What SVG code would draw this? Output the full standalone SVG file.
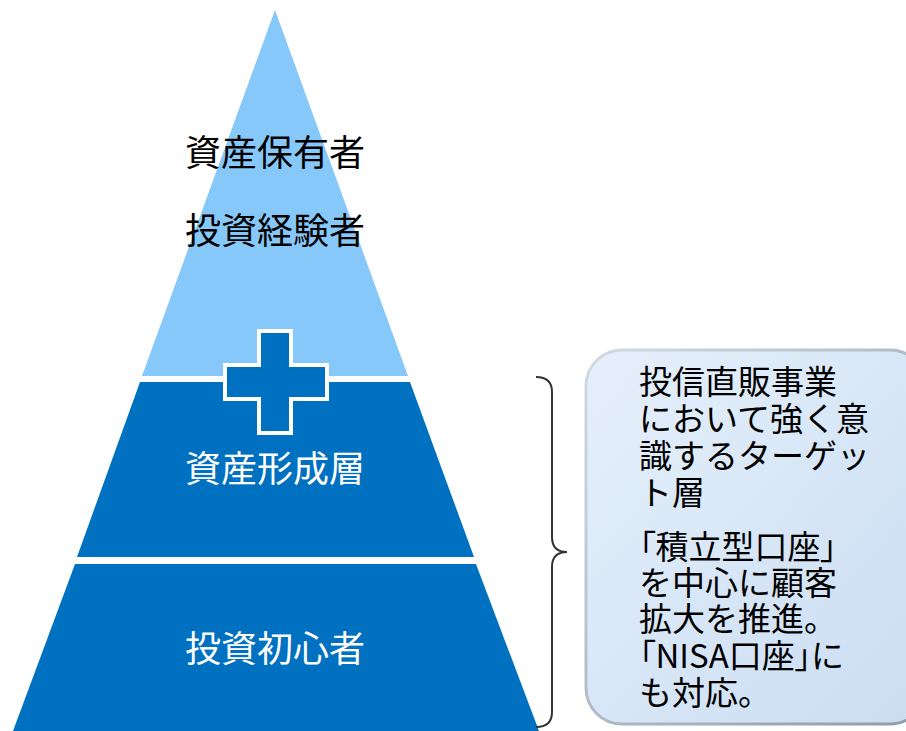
<svg xmlns="http://www.w3.org/2000/svg" width="906" height="731" viewBox="0 0 906 731">
<style>
.t{font-family:"Noto Sans CJK JP","Noto Sans CJK SC",sans-serif;}
.lbl{font-size:36px;text-anchor:middle;}
.box{font-size:33px;fill:#000;}
.palt{font-feature-settings:"palt" 1;}
</style>
<defs>
<linearGradient id="bg" x1="0" y1="0" x2="1" y2="1">
<stop offset="0" stop-color="#e6f0fb"/>
<stop offset="1" stop-color="#c9ddf2"/>
</linearGradient>
<linearGradient id="bd" x1="0" y1="0" x2="1" y2="1">
<stop offset="0" stop-color="#d0dbe6"/>
<stop offset="1" stop-color="#8e9aa6"/>
</linearGradient>
</defs>
<g id="top-layer">
<polygon points="275,10 408,376 142,376" fill="#87C8FA"/>
<text class="t lbl" x="275" y="166" fill="#000">資産保有者</text>
<text class="t lbl" x="275" y="244" fill="#000">投資経験者</text>
</g>
<g id="middle-layer">
<polygon points="140,382 410,382 474,557 77,557" fill="#0070C0"/>
<text class="t lbl" x="275" y="482" fill="#fff">資産形成層</text>
</g>
<g id="bottom-layer">
<polygon points="75,564 476,564 539,731 13,731" fill="#0070C0"/>
<text class="t lbl" x="275" y="662" fill="#fff">投資初心者</text>
</g>
<g id="plus">
<path d="M259,331 H291 V365 H327 V399 H291 V433 H259 V399 H225 V365 H259 Z" fill="#0070C0" stroke="#fff" stroke-width="4"/>
</g>
<g id="connectors">
<path d="M536,377 Q552,377 552,392 V537 Q552,552 567,552 Q552,552 552,567 V712 Q552,727 536,727" fill="none" stroke="#333" stroke-width="2"/>
</g>
<g id="target-box">
<rect x="586" y="350" width="340" height="374" rx="36" fill="url(#bg)" stroke="url(#bd)" stroke-width="3"/>
<text class="t box" x="639" y="394">投信直販事業</text>
<text class="t box" x="639" y="431">において強く意</text>
<text class="t box" x="639" y="468">識するターゲッ</text>
<text class="t box" x="639" y="505">ト層</text>
<text class="t box palt" x="639" y="559">「積立型口座」</text>
<text class="t box" x="639" y="595">を中心に顧客</text>
<text class="t box" x="639" y="631">拡大を推進。</text>
<text class="t box palt" x="639" y="668">「NISA口座」に</text>
<text class="t box" x="639" y="705">も対応。</text>
</g>
</svg>
